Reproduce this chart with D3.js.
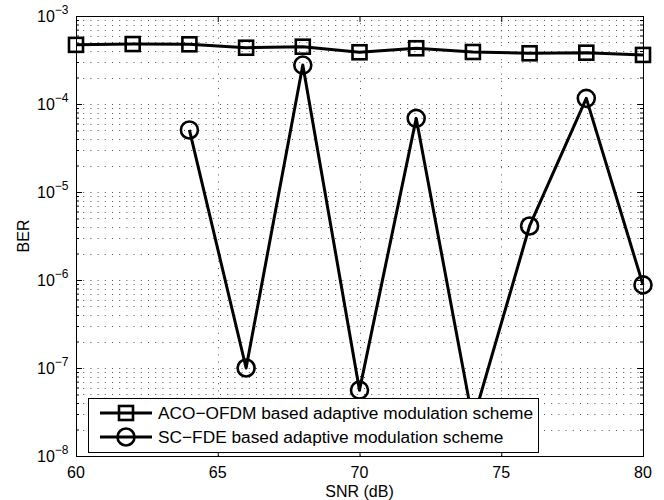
<!DOCTYPE html>
<html>
<head>
<meta charset="utf-8">
<script src="https://cdn.jsdelivr.net/npm/d3@7"></script>
<style>
  body { margin: 0; background: #fff; }
  svg { display: block; font-family: "Liberation Sans", Arial, sans-serif; }
</style>
</head>
<body>
<div id="vis"></div>
<script>
// datos
const snrAco = [60, 62, 64, 66, 68, 70, 72, 74, 76, 78, 80];
const berAco = [4.7e-4, 4.8e-4, 4.77e-4, 4.36e-4, 4.48e-4, 3.87e-4, 4.3e-4, 3.9e-4, 3.77e-4, 3.83e-4, 3.61e-4];

const snrSc = [64, 66, 68, 70, 72, 74, 76, 78, 80];
const berSc = [5.07e-5, 1.0e-7, 2.77e-4, 5.6e-8, 6.87e-5, 2.5e-8, 4.11e-6, 1.16e-4, 8.8e-7];

const xTicks = [60, 65, 70, 75, 80];
const yExponents = [-3, -4, -5, -6, -7, -8];

const seriesNames = [
    "ACO\u2212OFDM based adaptive modulation scheme",
    "SC\u2212FDE based adaptive modulation scheme"
];

const WIDTH = 664;
const HEIGHT = 500;
const MARGIN = { top: 16, bottom: 44, left: 76, right: 21 };
const W = WIDTH - MARGIN.left - MARGIN.right;
const H = HEIGHT - MARGIN.top - MARGIN.bottom;

const SVG = d3.select("#vis").append("svg")
    .attr("width", WIDTH)
    .attr("height", HEIGHT);

const xScale = d3.scaleLinear().domain([60, 80]).range([0, W]);
const yScale = d3.scaleLog().domain([1e-8, 1e-3]).range([H, 0]);

const g = SVG.append("g")
    .attr("transform", `translate(${MARGIN.left}, ${MARGIN.top})`);

// grilla punteada
const yGrid = yScale.ticks();
g.append("g")
    .selectAll("line")
    .data(yGrid)
    .join("line")
    .attr("x1", 0)
    .attr("x2", W)
    .attr("y1", d => Math.round(yScale(d)) + 0.5)
    .attr("y2", d => Math.round(yScale(d)) + 0.5)
    .attr("stroke", "#555")
    .attr("stroke-width", 1)
    .attr("stroke-dasharray", "1,6.2");

g.append("g")
    .selectAll("line")
    .data(xTicks)
    .join("line")
    .attr("x1", d => Math.round(xScale(d)) + 0.5)
    .attr("x2", d => Math.round(xScale(d)) + 0.5)
    .attr("y1", 0)
    .attr("y2", H)
    .attr("stroke", "#555")
    .attr("stroke-width", 1)
    .attr("stroke-dasharray", "1,6.2");

// ejes (ticks hacia adentro, en los cuatro lados)
const minorTicks = yGrid.filter(d => !yExponents.some(e => Math.abs(Math.log10(d) - e) < 1e-9));
const majorTicks = yExponents.map(e => Math.pow(10, e));

function styleAxis(sel) {
    sel.select(".domain").remove();
    sel.selectAll(".tick text").remove();
    sel.selectAll(".tick line").attr("stroke", "#000");
}

g.append("g")
    .call(d3.axisLeft(yScale).tickValues(majorTicks).tickSize(-6))
    .call(styleAxis);
g.append("g")
    .call(d3.axisLeft(yScale).tickValues(minorTicks).tickSize(-3))
    .call(styleAxis);
g.append("g")
    .attr("transform", `translate(${W}, 0)`)
    .call(d3.axisRight(yScale).tickValues(majorTicks).tickSize(-6))
    .call(styleAxis);
g.append("g")
    .attr("transform", `translate(${W}, 0)`)
    .call(d3.axisRight(yScale).tickValues(minorTicks).tickSize(-3))
    .call(styleAxis);
g.append("g")
    .attr("transform", `translate(0, ${H})`)
    .call(d3.axisBottom(xScale).tickValues(xTicks).tickSize(-6))
    .call(styleAxis);
g.append("g")
    .call(d3.axisTop(xScale).tickValues(xTicks).tickSize(-6))
    .call(styleAxis);

// series
const line = d3.line()
    .x(d => xScale(d[0]))
    .y(d => yScale(d[1]));

const acoData = d3.zip(snrAco, berAco);
const scData = d3.zip(snrSc, berSc);

g.append("path")
    .datum(acoData)
    .attr("d", line)
    .attr("fill", "none")
    .attr("stroke", "#000")
    .attr("stroke-width", 3)
    .attr("stroke-linejoin", "round");

g.append("path")
    .datum(scData)
    .attr("d", line)
    .attr("fill", "none")
    .attr("stroke", "#000")
    .attr("stroke-width", 3)
    .attr("stroke-linejoin", "round");

const SQ = 14;
g.append("g")
    .selectAll("rect")
    .data(acoData)
    .join("rect")
    .attr("x", d => xScale(d[0]) - SQ / 2)
    .attr("y", d => yScale(d[1]) - SQ / 2)
    .attr("width", SQ)
    .attr("height", SQ)
    .attr("fill", "none")
    .attr("stroke", "#000")
    .attr("stroke-width", 2.6);

g.append("g")
    .selectAll("circle")
    .data(scData)
    .join("circle")
    .attr("cx", d => xScale(d[0]))
    .attr("cy", d => yScale(d[1]))
    .attr("r", 8.5)
    .attr("fill", "none")
    .attr("stroke", "#000")
    .attr("stroke-width", 2.6);

// caja del grafico
g.append("rect")
    .attr("x", 0.5)
    .attr("y", 0.5)
    .attr("width", W)
    .attr("height", H)
    .attr("fill", "none")
    .attr("stroke", "#000")
    .attr("stroke-width", 1);

// etiquetas de ticks
g.append("g")
    .selectAll("text")
    .data(xTicks)
    .join("text")
    .attr("x", d => xScale(d))
    .attr("y", H + 22)
    .attr("text-anchor", "middle")
    .attr("font-size", 16)
    .text(d => d);

const yLabels = g.append("g")
    .selectAll("text")
    .data(yExponents)
    .join("text")
    .attr("x", -39)
    .attr("y", d => yScale(Math.pow(10, d)) + 6)
    .attr("font-size", 16);
yLabels.append("tspan").text("10");
yLabels.append("tspan")
    .attr("dy", -8)
    .attr("font-size", 12)
    .text(d => "\u2212" + Math.abs(d));

// titulos de ejes
SVG.append("text")
    .text("SNR (dB)")
    .attr("x", MARGIN.left + W / 2)
    .attr("y", HEIGHT - 3)
    .attr("text-anchor", "middle")
    .attr("font-size", 16);

SVG.append("text")
    .text("BER")
    .attr("transform", "rotate(270)")
    .attr("x", -(MARGIN.top + H / 2))
    .attr("y", 29)
    .attr("text-anchor", "middle")
    .attr("font-size", 16);

// leyenda
const legend = g.append("g")
    .attr("transform", `translate(${88 - MARGIN.left}, ${398 - MARGIN.top})`);

legend.append("rect")
    .attr("x", 0.5)
    .attr("y", 0.5)
    .attr("width", 450)
    .attr("height", 54)
    .attr("fill", "#fff")
    .attr("stroke", "#000")
    .attr("stroke-width", 1);

const items = legend.selectAll("g.item")
    .data(seriesNames)
    .join("g")
    .attr("class", "item")
    .attr("transform", (d, i) => `translate(0, ${15 + i * 24})`);

items.append("line")
    .attr("x1", 12)
    .attr("x2", 64)
    .attr("y1", 0)
    .attr("y2", 0)
    .attr("stroke", "#000")
    .attr("stroke-width", 3);

items.each(function(d, i) {
    const item = d3.select(this);
    if (i === 0) {
        item.append("rect")
            .attr("x", 38 - SQ / 2)
            .attr("y", -SQ / 2)
            .attr("width", SQ)
            .attr("height", SQ)
            .attr("fill", "none")
            .attr("stroke", "#000")
            .attr("stroke-width", 2.6);
    } else {
        item.append("circle")
            .attr("cx", 38)
            .attr("cy", 0)
            .attr("r", 8.5)
            .attr("fill", "none")
            .attr("stroke", "#000")
            .attr("stroke-width", 2.6);
    }
});

items.append("text")
    .attr("x", 70)
    .attr("y", 6)
    .attr("font-size", 17.3)
    .text(d => d);
</script>
</body>
</html>
